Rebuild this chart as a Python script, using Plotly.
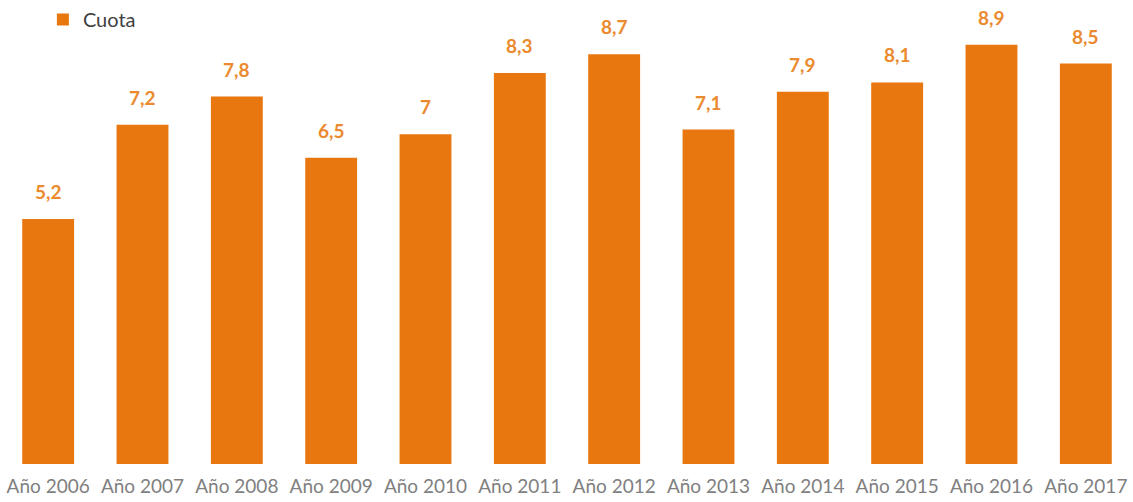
import plotly.graph_objects as go

categories = ["Año 2006", "Año 2007", "Año 2008", "Año 2009", "Año 2010", "Año 2011",
              "Año 2012", "Año 2013", "Año 2014", "Año 2015", "Año 2016", "Año 2017"]
values = [5.2, 7.2, 7.8, 6.5, 7.0, 8.3, 8.7, 7.1, 7.9, 8.1, 8.9, 8.5]
labels = ["5,2", "7,2", "7,8", "6,5", "7", "8,3", "8,7", "7,1", "7,9", "8,1", "8,9", "8,5"]
series_name = "Cuota"

ORANGE = "#E8770F"

fig = go.Figure()
fig.add_trace(go.Bar(
    x=categories, y=values, name=series_name,
    marker=dict(color=ORANGE, line=dict(width=0)),
    hoverinfo="skip",
))
for c, v, t in zip(categories, values, labels):
    fig.add_annotation(x=c, y=v, text="<b>" + t + "</b>", showarrow=False,
                       yanchor="bottom", yshift=14,
                       font=dict(family="Lato", size=19, color="#EB8A2E"))

fig.update_layout(
    width=1133, height=502,
    margin=dict(l=1, r=0, t=0, b=38, autoexpand=False),
    paper_bgcolor="white", plot_bgcolor="white",
    bargap=0.45,
    showlegend=True,
    legend=dict(x=0.037, y=1.0, xanchor="left", yanchor="top",
                font=dict(family="Lato", size=20, color="#404040"),
                bgcolor="rgba(0,0,0,0)", itemwidth=30),
    xaxis=dict(showgrid=False, showline=False, zeroline=False, ticks="", automargin=False,
               ticklabelstandoff=9,
               tickfont=dict(family="Lato", size=19, color="#808080")),
    yaxis=dict(range=[0, 9.85], visible=False, showgrid=False, zeroline=False, automargin=False),
)
fig.write_html("out.html", config={"displayModeBar": False},
               post_script="document.body.style.margin='0';document.body.style.padding='0';")
